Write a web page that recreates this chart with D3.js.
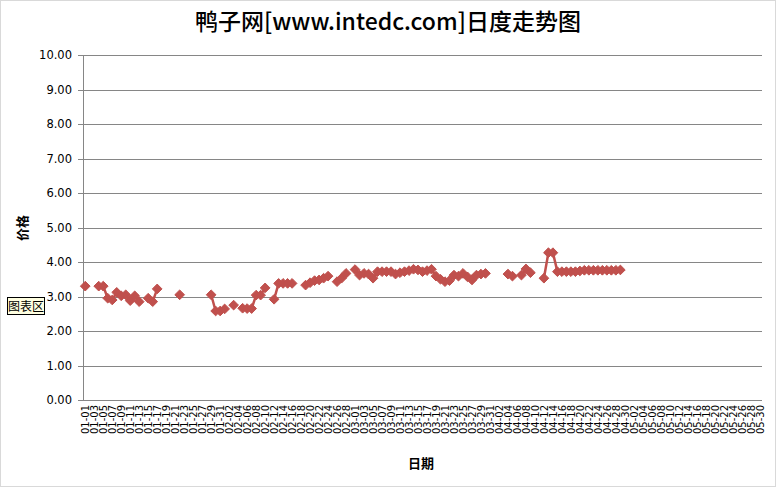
<!DOCTYPE html>
<html><head><meta charset="utf-8">
<script src="https://cdn.jsdelivr.net/npm/d3@7"></script>
<style>body{margin:0;background:#fff}svg{display:block}</style>
</head><body>
<script>
const title = "鸭子网[www.intedc.com]日度走势图";
const yTitle = "价格";
const xTitle = "日期";
const yTicks = [0,1,2,3,4,5,6,7,8,9,10];
// categories: 2012-01-01 .. 2012-05-30
const monthDays = [31,29,31,30,30];
const categories = [];
monthDays.forEach((n,m)=>{for(let d=1;d<=n;d++)categories.push(String(m+1).padStart(2,"0")+"-"+String(d).padStart(2,"0"));});
// values keyed by date (null where no data)
const dataDates = ["01-01","01-04","01-05","01-06","01-07","01-08","01-09","01-10","01-11","01-12","01-13","01-15","01-16","01-17","01-22",
"01-29","01-30","01-31","02-01","02-03","02-05","02-06","02-07","02-08","02-09","02-10","02-12","02-13","02-14","02-15","02-16",
"02-19","02-20","02-21","02-22","02-23","02-24","02-26","02-27","02-28","03-01","03-02","03-03","03-04","03-05","03-06","03-07","03-08","03-09",
"03-10","03-11","03-12","03-13","03-14","03-15","03-16","03-17","03-18","03-19","03-20","03-21","03-22","03-23","03-24","03-25","03-26","03-27","03-28","03-29","03-30",
"04-04","04-05","04-07","04-08","04-09","04-12","04-13","04-14","04-15","04-16","04-17","04-18","04-19","04-20","04-21","04-22","04-23","04-24","04-25","04-26","04-27","04-28","04-29"];
const dataValues = [3.30,3.30,3.30,2.95,2.90,3.12,3.02,3.05,2.88,3.02,2.85,2.95,2.85,3.22,3.05,
3.05,2.58,2.58,2.64,2.75,2.66,2.65,2.65,3.04,3.04,3.25,2.92,3.38,3.38,3.38,3.38,
3.33,3.40,3.46,3.48,3.53,3.59,3.43,3.53,3.67,3.78,3.62,3.67,3.65,3.53,3.72,3.72,3.72,3.72,
3.65,3.69,3.72,3.75,3.79,3.77,3.72,3.75,3.79,3.59,3.50,3.43,3.46,3.62,3.59,3.67,3.57,3.48,3.62,3.65,3.67,
3.65,3.59,3.62,3.80,3.69,3.53,4.27,4.27,3.72,3.72,3.72,3.72,3.72,3.74,3.76,3.76,3.76,3.76,3.76,3.76,3.76,3.76,3.77];

const W=776,H=487;
const m={left:83,right:14,top:55,bottom:87};
const svg=d3.select("body").append("svg").attr("width",W).attr("height",H);
svg.append("rect").attr("x",0.5).attr("y",0.5).attr("width",W-1).attr("height",H-1).attr("fill","#fff").attr("stroke","#d9d9d9");

const x=d3.scaleBand().domain(categories).range([m.left,W-m.right]);
const y=d3.scaleLinear().domain([0,10]).range([H-m.bottom,m.top]);

const valMap=new Map(dataDates.map((d,i)=>[d,dataValues[i]]));
const series=categories.map(c=>({c,v:valMap.has(c)?valMap.get(c):null}));

// gridlines
svg.append("g").selectAll("line").data(yTicks).join("line")
 .attr("x1",m.left-5).attr("x2",W-m.right)
 .attr("y1",d=>Math.round(y(d))+0.5).attr("y2",d=>Math.round(y(d))+0.5)
 .attr("stroke","#868686").attr("stroke-width",1);
// y axis line
svg.append("line").attr("x1",m.left+0.5).attr("x2",m.left+0.5).attr("y1",y(10)).attr("y2",y(0)).attr("stroke","#868686");
// y labels
svg.append("g").selectAll("text").data(yTicks).join("text")
 .attr("x",m.left-11).attr("y",d=>y(d)+4)
 .attr("text-anchor","end").attr("font-family","DejaVu Sans, Verdana, sans-serif").attr("font-size",11.5).attr("fill","#000")
 .text(d=>d.toFixed(2));
// x labels
svg.append("g").selectAll("text").data(categories.filter((c,i)=>i%2===0)).join("text")
 .attr("transform",d=>`translate(${x(d)+x.bandwidth()/2+4},${y(0)+5}) rotate(-90)`)
 .attr("text-anchor","end").attr("font-family","DejaVu Sans, Verdana, sans-serif").attr("font-size",10).attr("fill","#000")
 .text(d=>d);

// line
const cx=d=>x(d.c)+x.bandwidth()/2;
const line=d3.line().defined(d=>d.v!==null).x(cx).y(d=>y(d.v));
svg.append("path").datum(series).attr("d",line).attr("fill","none").attr("stroke","#C0504D").attr("stroke-width",2.5).attr("stroke-linejoin","round");
// markers
svg.append("g").selectAll("path").data(series.filter(d=>d.v!==null)).join("path")
 .attr("transform",d=>`translate(${cx(d)},${y(d.v)})`)
 .attr("d",d3.symbol(d3.symbolDiamond2,60)())
 .attr("fill","#C0504D").attr("stroke","#C0504D").attr("stroke-width",1);

// titles
svg.append("text").attr("x",388).attr("y",30).attr("text-anchor","middle")
 .attr("font-family","Noto Sans CJK SC, sans-serif").attr("font-size",23).attr("font-weight",500).text(title);
svg.append("text").attr("transform","translate(27,228) rotate(-90)").attr("text-anchor","middle")
 .attr("font-family","Noto Sans CJK SC, sans-serif").attr("font-size",13).attr("font-weight","bold").text(yTitle);
svg.append("text").attr("x",421).attr("y",468).attr("text-anchor","middle")
 .attr("font-family","Noto Sans CJK SC, sans-serif").attr("font-size",13).attr("font-weight","bold").text(xTitle);

// tooltip box
const tip=svg.append("g").attr("transform","translate(7,297)");
tip.append("rect").attr("x",0.5).attr("y",0.5).attr("width",37).attr("height",17).attr("fill","#FFFFE1").attr("stroke","#000");
tip.append("text").attr("x",19).attr("y",13.5).attr("text-anchor","middle").attr("font-family","Noto Sans CJK SC, sans-serif").attr("font-size",12).text("图表区");
</script>
</body></html>
